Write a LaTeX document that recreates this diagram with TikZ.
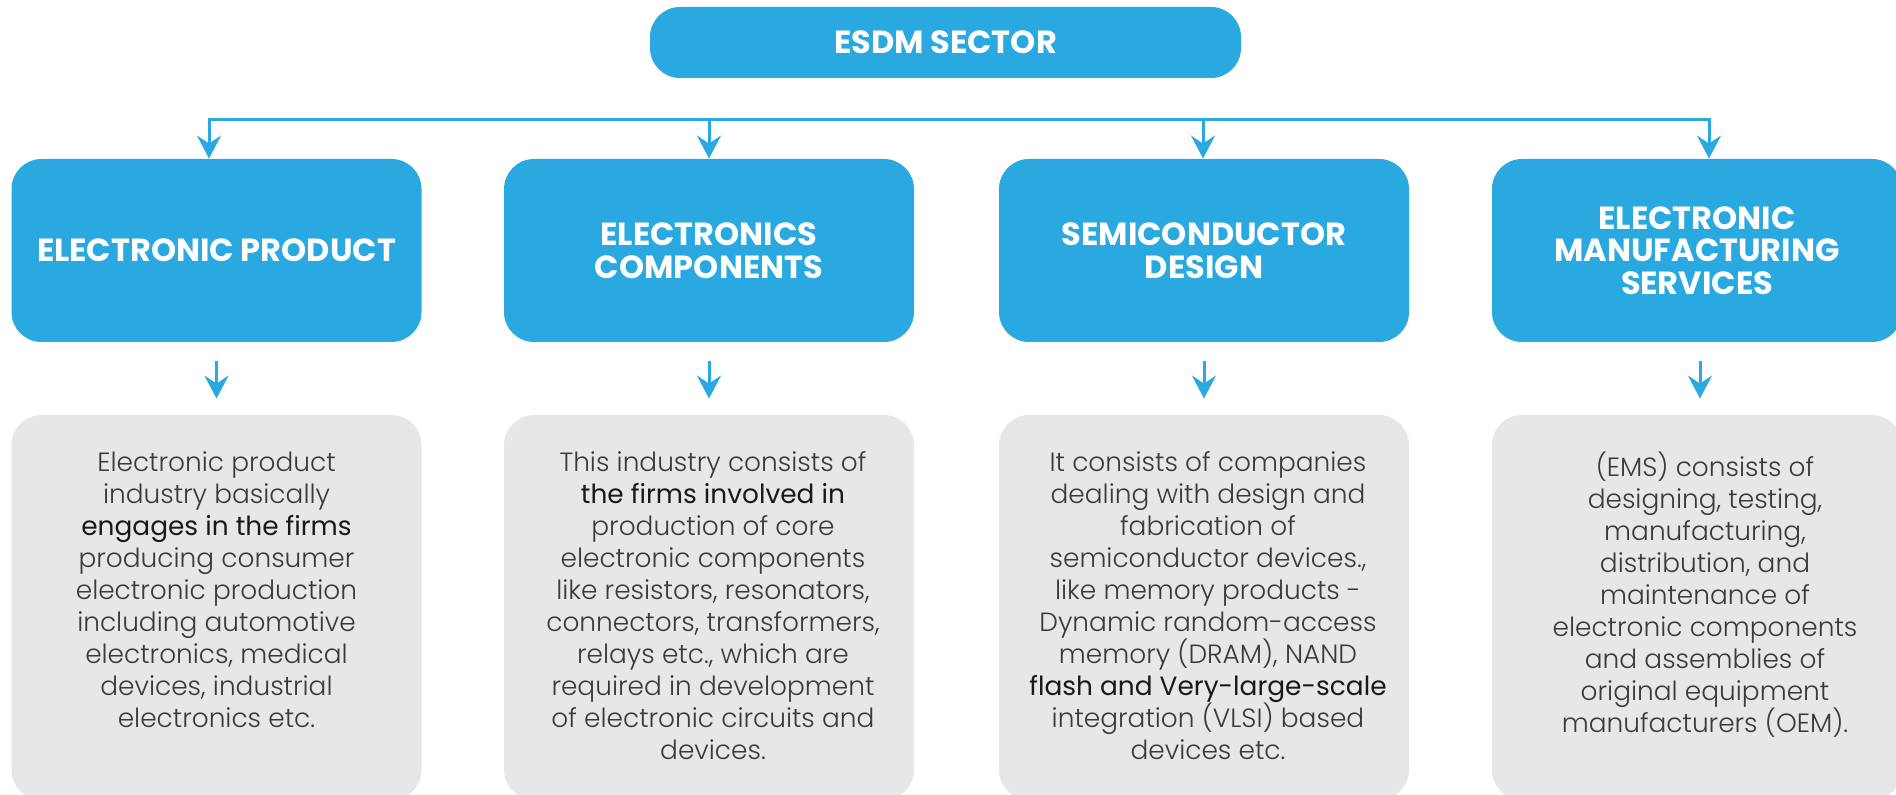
\documentclass[tikz,border=0pt]{standalone}
\usepackage{fontspec}
\setmainfont{Poppins}[UprightFont=* Light, BoldFont=* Bold]
\newfontfamily\headfont{Poppins}[UprightFont=* Bold]
\newfontfamily\markfont{Poppins}[UprightFont=* Regular]
\usetikzlibrary{arrows.meta}
\definecolor{esdmblue}{HTML}{29A9E0}
\definecolor{infogray}{HTML}{E6E7E8}
\definecolor{bodygray}{HTML}{3A3A3A}
\newcommand{\firmpart}[1]{{\markfont\color{black!90}#1}}

\begin{document}
\begin{tikzpicture}[x=0.5pt,y=-0.5pt,
  sector/.style={fill=esdmblue, rounded corners=15pt, minimum width=205pt,
    minimum height=91.5pt, inner sep=0pt, text=white, align=center,
    font=\headfont\fontsize{16}{16.3}\selectfont},
  info/.style={fill=infogray, rounded corners=15pt, minimum width=205pt,
    minimum height=192.5pt, inner sep=0pt},
  infotext/.style={text=bodygray, align=center, anchor=north, inner sep=0pt,
    font=\fontsize{13.2}{16}\selectfont},
  link/.style={draw=esdmblue, line width=1.5pt,
    -{Stealth[length=11.5pt,width=12pt,inset=4pt]}}]
\useasboundingbox (0,0) rectangle (1896,795);
% top box
\node[sector, minimum width=295.5pt, minimum height=35.5pt] (esdm) at (945.5,42.5) {ESDM SECTOR};
% the four sectors
\node[sector] (ep) at (216.5,250.5) {ELECTRONIC PRODUCT};
\node[sector] (ec) at (709,250.5) {ELECTRONICS\\COMPONENTS};
\node[sector] (sd) at (1204,250.5) {SEMICONDUCTOR\\DESIGN};
\node[sector] (ems) at (1697,250.5) {ELECTRONIC\\MANUFACTURING\\SERVICES};
% bus with arrows down to the sectors
\coordinate (bus1) at (209,120);
\coordinate (bus2) at (709,120);
\coordinate (bus3) at (1203,120);
\coordinate (bus4) at (1709,120);
\draw[esdmblue, line width=1.5pt, line cap=rect] (bus1) -- (bus4);
\draw[link] (bus1) -- (bus1 |- ep.north);
\draw[link] (bus2) -- (bus2 |- ec.north);
\draw[link] (bus3) -- (bus3 |- sd.north);
\draw[link] (bus4) -- (bus4 |- ems.north);
% grey boxes
\node[info] (epinfo) at (216.5,607.5) {};
\node[info] (ecinfo) at (709,607.5) {};
\node[info] (sdinfo) at (1204,607.5) {};
\node[info] (emsinfo) at (1697,607.5) {};
% arrows from sectors to grey boxes
\draw[link] ([yshift=-9.5pt]ep.south) -- ([yshift=8pt]epinfo.north);
\draw[link] ([yshift=-9.5pt]ec.south) -- ([yshift=8pt]ecinfo.north);
\draw[link] ([yshift=-9.5pt]sd.south) -- ([yshift=8pt]sdinfo.north);
\draw[link] ([xshift=1.5pt,yshift=-9.5pt]ems.south) -- ([xshift=1.5pt,yshift=8pt]emsinfo.north);
% texts
\node[infotext] (eptext) at ([yshift=-18.5pt]epinfo.north) {Electronic product\\industry basically\\\firmpart{engages in the firms}\\producing consumer\\electronic production\\including automotive\\electronics, medical\\devices, industrial\\electronics etc.};
\node[infotext] (ectext) at ([xshift=2pt,yshift=-18.5pt]ecinfo.north) {This industry consists of\\\firmpart{the firms involved in}\\production of core\\electronic components\\like resistors, resonators,\\connectors, transformers,\\relays etc., which are\\required in development\\of electronic circuits and\\devices.};
\node[infotext] (sdtext) at ([xshift=2pt,yshift=-18.5pt]sdinfo.north) {It consists of companies\\dealing with design and\\fabrication of\\semiconductor devices.,\\like memory products -\\Dynamic random-access\\memory (DRAM), NAND\\\firmpart{flash and Very-large-scale}\\integration (VLSI) based\\devices etc.};
\node[infotext] (emstext) at ([xshift=4pt,yshift=-18.5pt]emsinfo.north) {(EMS) consists of\\designing, testing,\\manufacturing,\\distribution, and\\maintenance of\\electronic components\\and assemblies of\\original equipment\\manufacturers (OEM).};
\end{tikzpicture}
\end{document}
